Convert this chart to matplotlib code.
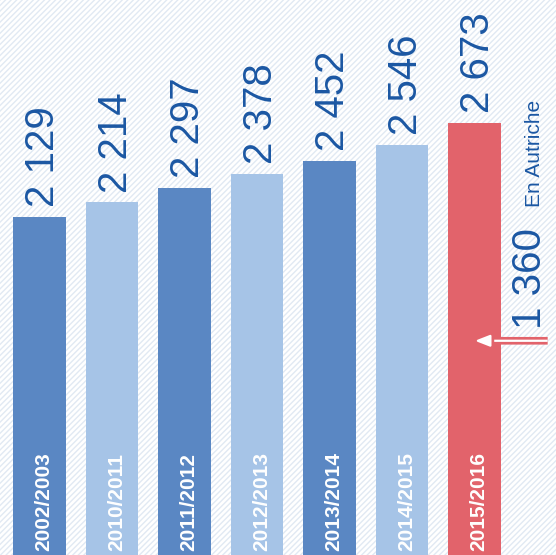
import matplotlib
matplotlib.use("Agg")
import matplotlib.pyplot as plt
import matplotlib.patheffects as pe
from matplotlib.patches import Rectangle

# data
seasons = ["2002/2003", "2010/2011", "2011/2012", "2012/2013",
           "2013/2014", "2014/2015", "2015/2016"]
values = [2129, 2214, 2297, 2378, 2452, 2546, 2673]
value_labels = ["2 129", "2 214", "2 297", "2 378", "2 452", "2 546", "2 673"]
austria_label = "1 360"
austria_text = "En Autriche"

dark_blue = "#5a87c3"
light_blue = "#a6c4e7"
red = "#e2636b"
text_blue = "#1b57a3"
bar_colors = [dark_blue, light_blue, dark_blue, light_blue, dark_blue, light_blue, red]

plt.rcParams["font.family"] = ["Liberation Sans", "DejaVu Sans"]
plt.rcParams["hatch.linewidth"] = 1.0

fig = plt.figure(figsize=(5.56, 5.55), dpi=100)
ax = fig.add_axes([0, 0, 1, 1])
ax.set_facecolor("white")

# faint striped background
ax.add_patch(Rectangle((0, 0), 1, 1, transform=ax.transAxes, facecolor="white",
                       edgecolor="#e1e9f3", hatch="//////", lw=0, zorder=0))

x = list(range(len(values)))
ax.bar(x, values, width=0.73, color=bar_colors, zorder=2)

# values above the bars
for i, (v, lab) in enumerate(zip(values, value_labels)):
    ax.annotate(lab, xy=(i, v), xytext=(10.5, 7), textcoords="offset points",
                rotation=90, rotation_mode="anchor", ha="left", va="baseline",
                fontsize=29, color=text_blue, zorder=3)

# season labels inside the bars
for i, s in enumerate(seasons):
    ax.annotate(s, xy=(i, 0), xycoords=ax.get_xaxis_transform(),
                xytext=(7.3, 3), textcoords="offset points",
                rotation=90, rotation_mode="anchor", ha="left", va="baseline",
                fontsize=15, fontweight="bold", color="white", zorder=3)

# Austria comparison
ax.text(0.973, 0.408, austria_label, transform=ax.transAxes, rotation=90,
        rotation_mode="anchor", ha="left", va="baseline", fontsize=29,
        color=text_blue, zorder=3)
ax.text(0.971, 0.627, austria_text, transform=ax.transAxes, rotation=90,
        rotation_mode="anchor", ha="left", va="baseline", fontsize=15,
        color=text_blue, zorder=3)
arr = ax.annotate("", xy=(0.854, 0.386), xycoords="axes fraction",
                  xytext=(0.985, 0.386), textcoords="axes fraction",
                  arrowprops=dict(arrowstyle="-|>,head_length=0.9,head_width=0.35",
                                  color="white", lw=1.6, shrinkA=0, shrinkB=0,
                                  capstyle="butt"),
                  zorder=4)
arr.arrow_patch.set_path_effects([pe.Stroke(linewidth=5.5, foreground=red, capstyle="butt"),
                                  pe.Normal()])

ax.set_xlim(-0.545, 7.124)
ax.set_ylim(173, 3385)
ax.axis("off")

fig.savefig("out.png", dpi=100)
